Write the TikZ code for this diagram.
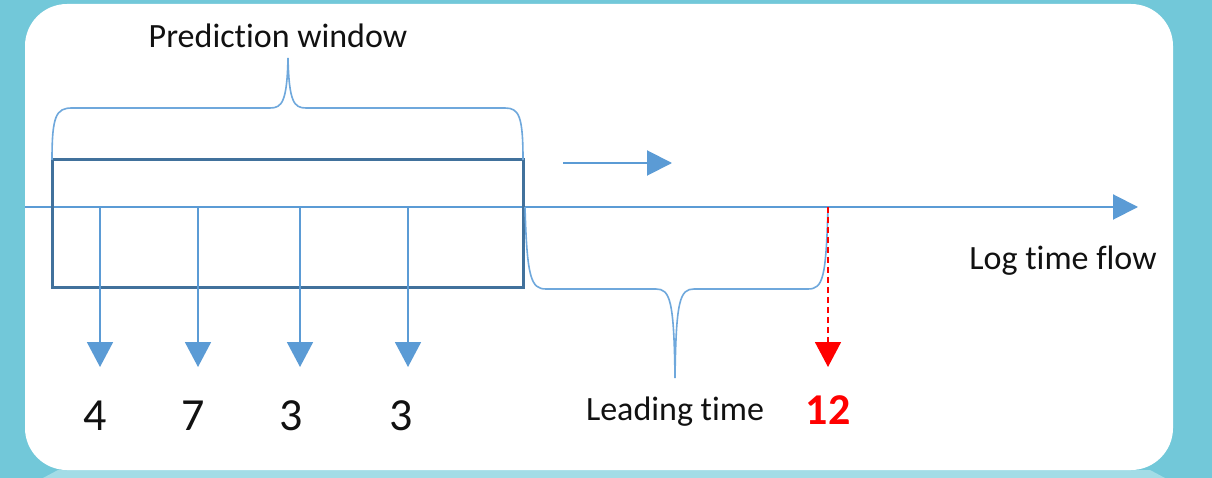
\documentclass[tikz,border=0pt]{standalone}
\usepackage{fontspec}
\setmainfont[Ligatures=NoCommon]{Carlito}
\usetikzlibrary{arrows.meta}
\definecolor{teal1}{HTML}{72C8D9}
\definecolor{teal2}{HTML}{A3DCE6}
\definecolor{axisblue}{HTML}{5B9BD5}
\definecolor{boxblue}{HTML}{41719C}
\definecolor{braceblue}{HTML}{6FA8DC}
\definecolor{txt}{HTML}{111111}
\tikzset{
  axisline/.style={draw=axisblue, line width=2pt, -{Triangle[length=25pt,width=25pt]}},
  downarrow/.style={draw=axisblue, line width=1.8pt, -{Triangle[length=25pt,width=26pt]}},
  redarrow/.style={draw=red, line width=1.6pt, dash pattern=on 6pt off 4pt, -{Triangle[length=25pt,width=26pt]}},
  bracestyle/.style={draw=braceblue, line width=1.6pt},
  label/.style={font=\fontsize{34}{38}\selectfont, text=txt, inner sep=0pt},
  num/.style={font=\fontsize{46}{50}\selectfont, text=txt, inner sep=0pt},
}
\begin{document}
\begin{tikzpicture}[x=1pt,y=-1pt]
\useasboundingbox (0,0) rectangle (1212,478);
\fill[teal1] (0,0) rectangle (1212,478);
\fill[teal2] (43,478) -- (58,470) -- (1150,470) -- (1165,478) -- cycle;
\fill[white, rounded corners=42pt] (25,4) rectangle (1173,470);

% time axis
\coordinate (axL) at (25,207);
\coordinate (axR) at (1138,207);
\draw[axisline] (axL) -- (axR);

% prediction window box
\node[draw=boxblue, line width=3pt, minimum width=471pt, minimum height=127pt, inner sep=0pt] (win) at (287.5,223.5) {};

% top brace
\draw[bracestyle] (52,160) .. controls (52,116) and (56,108) .. (72,108) -- (270,108)
  .. controls (282,108) and (287,102) .. (288,58)
  .. controls (289,102) and (294,108) .. (306,108) -- (505,108)
  .. controls (519,108) and (523,116) .. (523,160);
\node[label] (pw) at (278,36) {Prediction window};

% moving arrow
\coordinate (mvA) at (563,163);
\coordinate (mvB) at (672,163);
\draw[axisline] (mvA) -- (mvB);

% lower brace
\draw[bracestyle] (525,207) .. controls (527,278) and (531,289) .. (546,289) -- (656,289)
  .. controls (670,289) and (674,300) .. (675,378)
  .. controls (676,300) and (680,289) .. (694,289) -- (808,289)
  .. controls (823,289) and (826,278) .. (828,207);
\node[label] (lt) at (675,412) {Leading time};

% down arrows
\foreach \x/\n/\lx/\nm in {100/4/95/a, 198/7/193/b, 300/3/291/c, 408/3/401/d}{
  \coordinate (s\nm) at (\x,207);
  \coordinate (e\nm) at (\x,367);
  \draw[downarrow] (s\nm) -- (e\nm);
  \node[num] (n\nm) at (\lx,416) {\n};
}

% red arrow
\coordinate (rs) at (828,207);
\coordinate (re) at (828,367);
\draw[redarrow] (rs) -- (re);
\node[num, text=red, font=\fontsize{44}{48}\selectfont\bfseries] (n12) at (828,410) {12};

\node[label] (ltf) at (1063,261) {Log time flow};
\end{tikzpicture}
\end{document}
